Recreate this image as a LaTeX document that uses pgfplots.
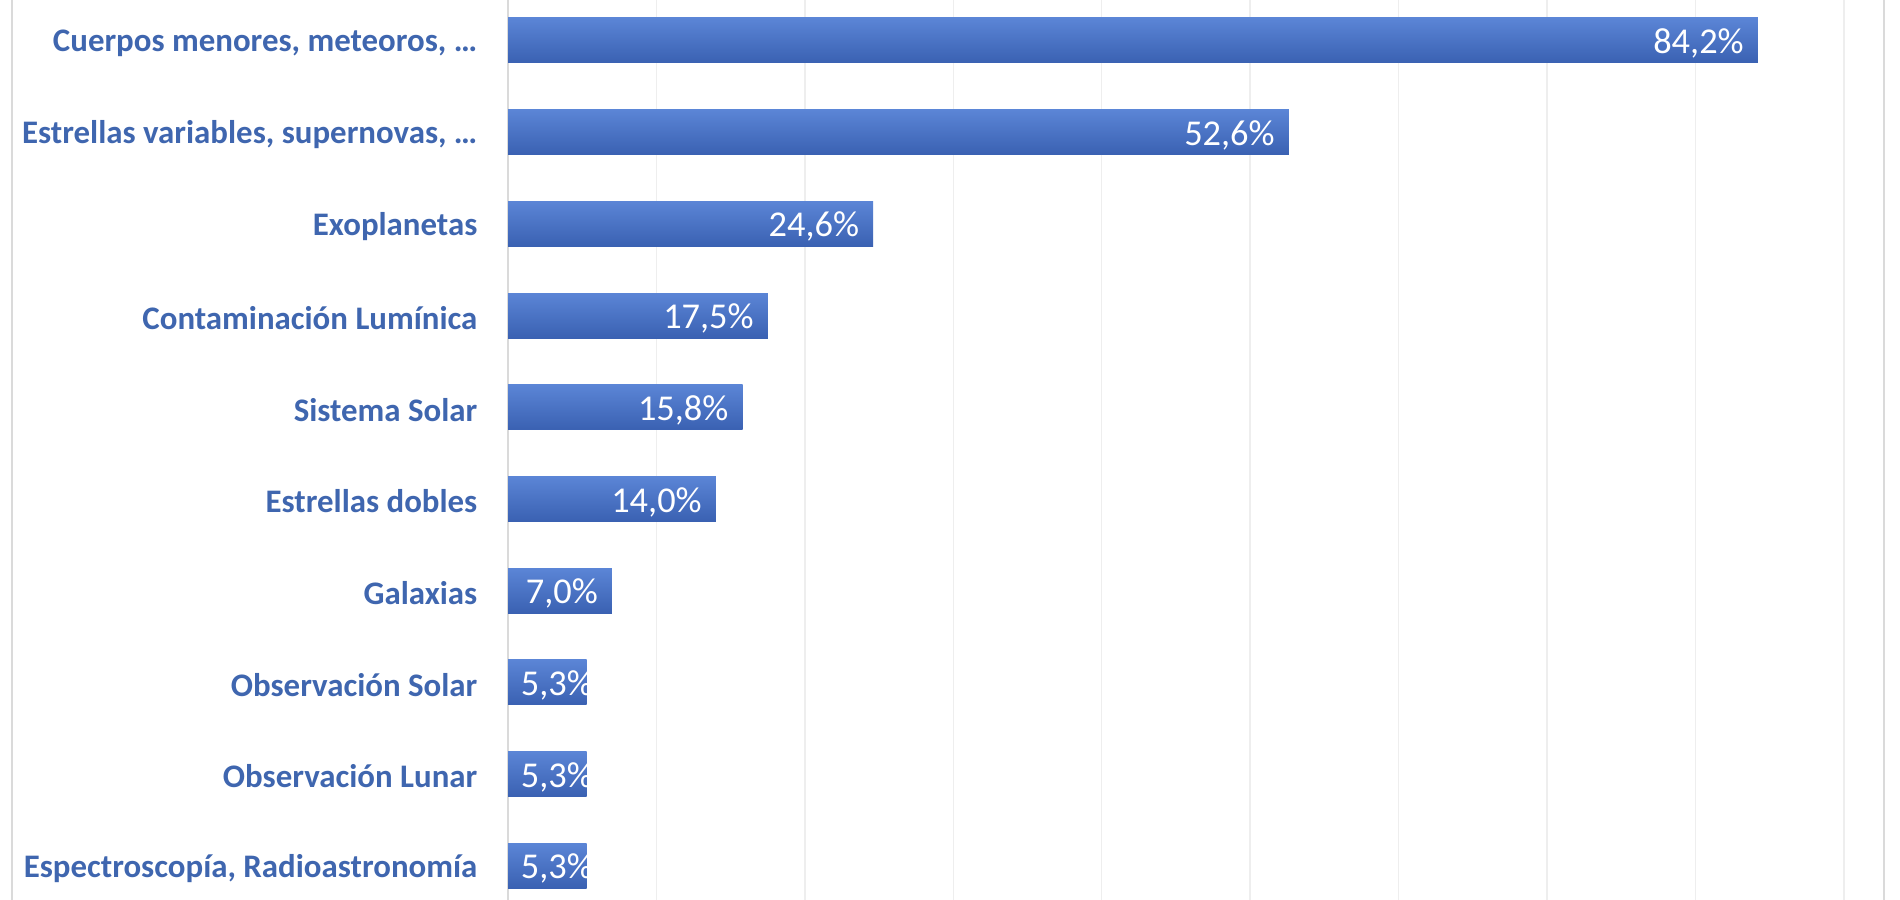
\documentclass[border=0pt]{standalone}
\usepackage{pgfplots}
\pgfplotsset{compat=1.18}
\usepackage{pgfplotstable}
\usepackage{fontspec}
\setmainfont{Carlito}
\definecolor{labblue}{HTML}{3F66AF}
\definecolor{barTop}{HTML}{5B85D6}
\definecolor{barMid}{HTML}{4673C8}
\definecolor{barBot}{HTML}{3A61B2}
\definecolor{gridc}{HTML}{EEEEEE}
\definecolor{axisc}{HTML}{DADADA}

\pgfplotstableread{
i v
0 84.2
1 52.6
2 24.6
3 17.5
4 15.8
5 14.0
6 7.0
7 5.3
8 5.3
9 5.3
}\data

\begin{document}
\begin{tikzpicture}[x=1bp,y=1bp]
\useasboundingbox (0,0) rectangle (1900,900);
\fill[white] (0,0) rectangle (1900,900);
\draw[axisc, line width=1.5bp] (12,0) -- (12,900);
\draw[axisc, line width=1.5bp] (1884,0) -- (1884,900);
\begin{axis}[
  at={(508bp,905.4bp)}, anchor=north west,
  scale only axis, width=1336bp, height=917bp,
  xmin=0, xmax=90, ymin=-0.5, ymax=9.5, y dir=reverse,
  axis line style={draw=none},
  xtick={10,20,...,90}, xticklabels={},
  xmajorgrids, grid style={gridc, line width=1.5bp},
  extra x ticks={0}, extra x tick labels={},
  extra x tick style={grid style={axisc, line width=1.5bp}},
  major tick length=0pt,
  ytick={0,...,9},
  yticklabels={{Cuerpos menores, meteoros, …},{Estrellas variables, supernovas, …},{Exoplanetas},{Contaminación Lumínica},{Sistema Solar},{Estrellas dobles},{Galaxias},{Observación Solar},{Observación Lunar},{Espectroscopía, Radioastronomía}},
  yticklabel style={font=\fontsize{33}{40}\selectfont\bfseries, color=labblue, anchor=east, inner sep=0pt, xshift=-30.5bp, yshift=-2.5bp},
  /pgf/number format/assume math mode=true,
  clip=false,
]
\pgfplotsinvokeforeach{0,...,9}{
\addplot[xbar, bar width=45bp, bar shift=0pt, draw=none, top color=barTop, middle color=barMid, bottom color=barBot,
  restrict expr to domain={\coordindex}{#1:#1}]
  table[x=v, y=i]{\data};
}
\addplot[draw=none, mark=none, point meta=explicit,
  nodes near coords={\pgfmathprintnumber[fixed, fixed zerofill, precision=1, use comma, assume math mode=true]{\pgfplotspointmeta}\%},
  nodes near coords style={anchor=east, white, font=\fontsize{36.5}{44}\selectfont, inner sep=0pt, yshift=-3bp}]
  table[x expr={max(\thisrow{v}-0.94,5.73)}, y=i, meta=v]{\data};
\end{axis}
\end{tikzpicture}
\end{document}
